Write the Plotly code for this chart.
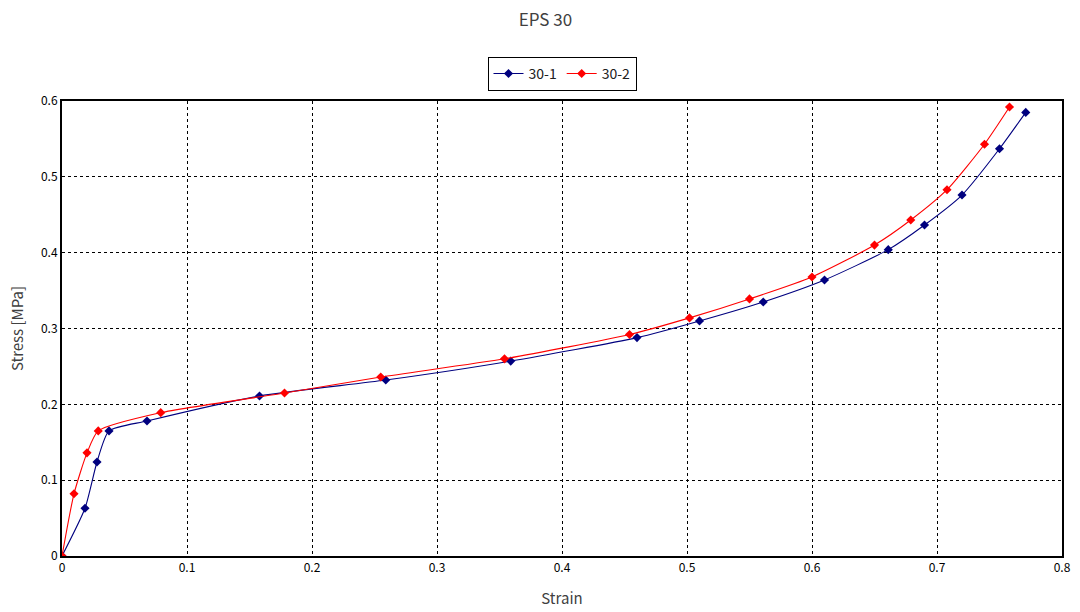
import plotly.graph_objects as go

strain_1 = [0, 0.0184, 0.028, 0.0376, 0.068, 0.158, 0.259, 0.359, 0.46, 0.51, 0.561, 0.61, 0.661, 0.69, 0.72, 0.75, 0.771]
stress_1 = [0, 0.063, 0.124, 0.165, 0.178, 0.211, 0.232, 0.257, 0.288, 0.31, 0.335, 0.364, 0.404, 0.4365, 0.476, 0.537, 0.585]
strain_2 = [0, 0.0096, 0.02, 0.029, 0.079, 0.178, 0.255, 0.354, 0.454, 0.502, 0.55, 0.6, 0.65, 0.679, 0.708, 0.738, 0.758]
stress_2 = [0, 0.082, 0.136, 0.165, 0.189, 0.215, 0.236, 0.26, 0.292, 0.314, 0.339, 0.368, 0.41, 0.443, 0.483, 0.543, 0.592]

x_ticks = [0, 0.1, 0.2, 0.3, 0.4, 0.5, 0.6, 0.7, 0.8]
y_ticks = [0, 0.1, 0.2, 0.3, 0.4, 0.5, 0.6]

font = "Noto Sans CJK KR, DejaVu Sans, sans-serif"

fig = go.Figure()
fig.add_trace(go.Scatter(x=strain_1, y=stress_1, name="30-1", mode="lines+markers",
                         line=dict(color="#00007f", width=1.1, shape="spline", smoothing=0.6),
                         marker=dict(symbol="diamond", size=7, color="#00007f")))
fig.add_trace(go.Scatter(x=strain_2, y=stress_2, name="30-2", mode="lines+markers",
                         line=dict(color="#ff0000", width=1.1, shape="spline", smoothing=0.6),
                         marker=dict(symbol="diamond", size=7, color="#ff0000")))

axis_common = dict(showline=True, linecolor="black", linewidth=2, mirror=True,
                   showgrid=True, gridcolor="black", griddash="3px,3px", gridwidth=1,
                   zeroline=False, ticks="", automargin=False,
                   tickfont=dict(size=12, color="black", family=font))

fig.update_xaxes(range=[0, 0.8], tickvals=x_ticks, ticktext=[f"{v:g}" for v in x_ticks],
                 title=dict(text="Strain", font=dict(size=15, color="#404040", family=font), standoff=19),
                 **axis_common)
fig.update_yaxes(range=[0, 0.6], tickvals=y_ticks, ticktext=[f"{v:g}" for v in y_ticks],
                 title=dict(text="Stress [MPa]", font=dict(size=15, color="#404040", family=font), standoff=14),
                 **axis_common)

fig.update_layout(
    width=1080, height=612,
    margin=dict(l=62, r=18, t=101, b=56),
    paper_bgcolor="white", plot_bgcolor="white",
    title=dict(text="EPS 30", x=0.505, xanchor="center", y=0.967, yanchor="middle",
               font=dict(size=17, color="#404040", family=font)),
    legend=dict(orientation="h", x=0.5, xanchor="center", y=1.097, yanchor="top",
                bordercolor="black", borderwidth=1, bgcolor="white",
                font=dict(size=14, color="#202020", family=font),
                itemwidth=30, tracegroupgap=0),
    showlegend=True,
)

fig.write_html("out.html")
